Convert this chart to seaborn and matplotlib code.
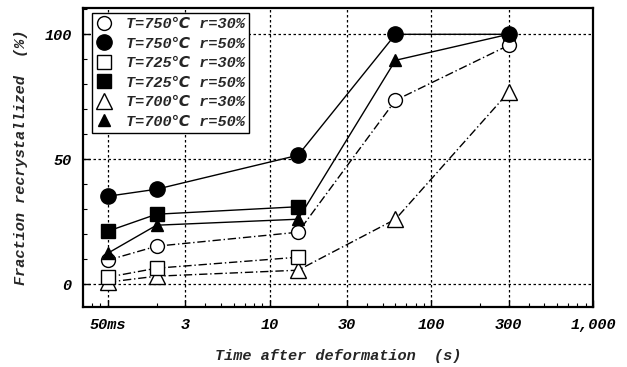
import matplotlib
matplotlib.use("Agg")
import matplotlib.pyplot as plt
import seaborn as sns
import numpy as np
import pandas as pd
from matplotlib.ticker import FixedLocator, LogLocator, MultipleLocator, NullFormatter

sns.set_theme(style="ticks")
plt.rcParams['font.family'] = ['Liberation Mono', 'DejaVu Sans Mono', 'DejaVu Sans']

# time axis (s); the first point (50 ms) sits at the broken-axis position labelled "50ms"
times = [1, 2, 15, 60, 300]
tick_pos = [1, 3, 10, 30, 100, 300, 1000]
tick_labels = ["50ms", "3", "10", "30", "100", "300", "1,000"]

labels = ["T=750℃ r=30%", "T=750℃ r=50%", "T=725℃ r=30%",
          "T=725℃ r=50%", "T=700℃ r=30%", "T=700℃ r=50%"]
v750_30 = [9.6, 15.2, 20.8, 73.6, 95.6]
v750_50 = [35.2, 38.0, 51.6, 100, 100]
v725_30 = [2.8, 6.4, 10.8]
v725_50 = [21.2, 28.0, 31.0]
v700_30 = [0.8, 3.2, 5.6, 26.0, 76.8]
v700_50 = [12.4, 23.6, 26.0, 89.6, 100]

series = [v750_30, v750_50, v725_30, v725_50, v700_30, v700_50]
markers = ['o', 'o', 's', 's', '^', '^']
filled = [False, True, False, True, False, True]
msizes = [10, 11, 9.5, 9.5, 11, 9]

fig, ax = plt.subplots(figsize=(6.27, 3.67), dpi=100)
fig.subplots_adjust(left=0.132, right=0.946, bottom=0.163, top=0.978)

# draw dashed series first so solid ones lie on top
order = [4, 2, 0, 5, 3, 1]
handles = {}
for i in order:
    vals = series[i]
    df = pd.DataFrame({"t": times[:len(vals)], "v": vals})
    ls = '-' if filled[i] else (0, (6, 2, 1, 2))
    sns.lineplot(data=df, x="t", y="v", ax=ax, color='black', linewidth=1.0,
                 linestyle=ls, marker=markers[i], markersize=msizes[i],
                 markerfacecolor='black' if filled[i] else 'white',
                 markeredgecolor='black', markeredgewidth=1.0, zorder=3)
    h, = ax.plot([], [], linestyle='none', marker=markers[i], markersize=msizes[i],
                 markerfacecolor='black' if filled[i] else 'white',
                 markeredgecolor='black', markeredgewidth=1.0, color='black')
    handles[i] = h

ax.set_xscale('log')
ax.set_xlim(0.70, 1000)
ax.set_ylim(-9.2, 110.5)

ax.xaxis.set_major_locator(FixedLocator(tick_pos))
ax.set_xticklabels(tick_labels)
ax.xaxis.set_minor_locator(LogLocator(base=10, subs=np.arange(2, 10)))
ax.xaxis.set_minor_formatter(NullFormatter())
ax.yaxis.set_major_locator(FixedLocator([0, 50, 100]))
ax.yaxis.set_minor_locator(MultipleLocator(10))

for lab in ax.get_xticklabels() + ax.get_yticklabels():
    lab.set_fontsize(11)
    lab.set_fontweight('bold')
    lab.set_fontstyle('italic')

ax.tick_params(which='both', direction='in', colors='black', top=False, right=False)
ax.tick_params(which='major', length=5, width=1.0, pad=8)
ax.tick_params(which='minor', length=3, width=0.8)

ax.grid(True, which='major', color='black', linestyle=(0, (2, 2)), linewidth=0.9)
for s in ax.spines.values():
    s.set_color('black')
    s.set_linewidth(1.6)

ax.set_xlabel("Time after deformation  (s)", fontsize=11, fontweight='bold',
              fontstyle='italic', labelpad=12)
ax.set_ylabel("Fraction recrystallized  (%)", fontsize=11, fontweight='bold',
              fontstyle='italic', labelpad=12)

leg = ax.legend([handles[i] for i in range(6)], labels, loc='upper left',
                bbox_to_anchor=(0.012, 0.995), frameon=True, fancybox=False,
                edgecolor='black', framealpha=1, borderpad=0.3, labelspacing=0.36,
                handletextpad=0.9, handlelength=1.0, borderaxespad=0.2,
                prop=dict(family=['Liberation Mono', 'DejaVu Sans Mono', 'DejaVu Sans'],
                          size=11, weight='bold', style='italic'))
leg.get_frame().set_linewidth(1.0)
leg.set_zorder(5)

fig.savefig("out.png", dpi=100)
